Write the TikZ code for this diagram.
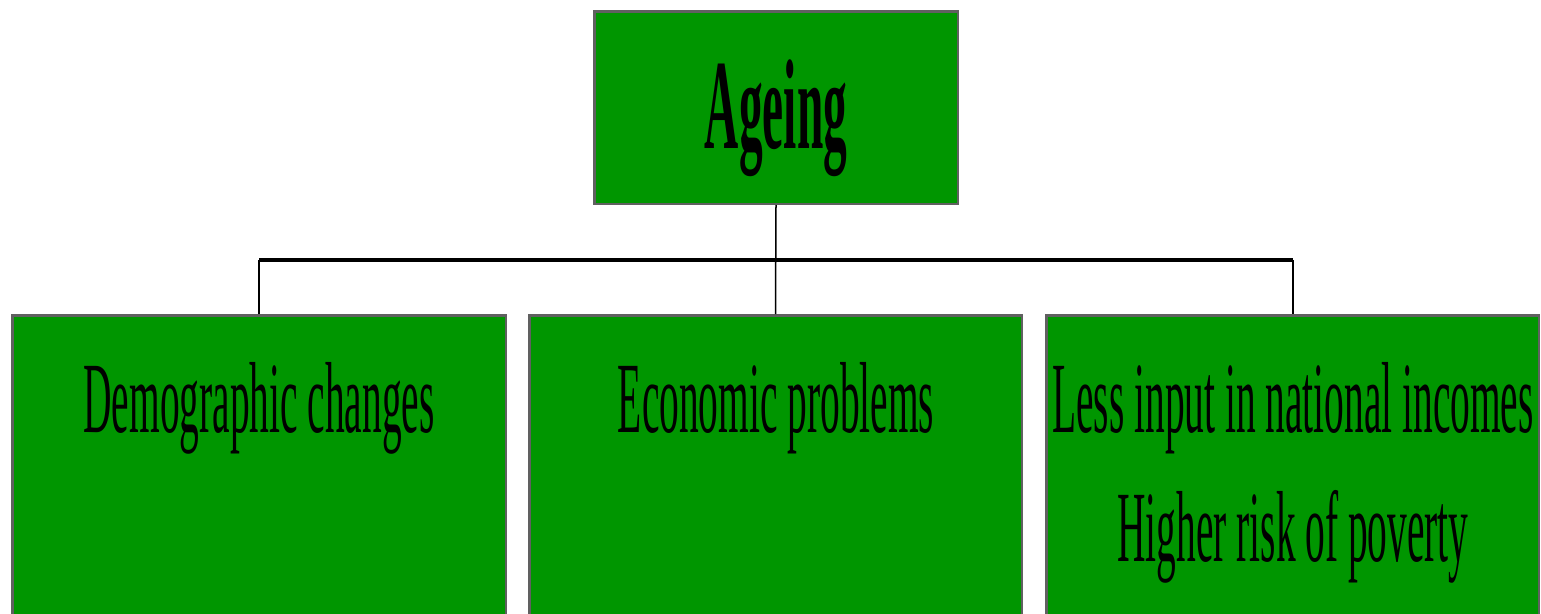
\documentclass[tikz,border=0pt]{standalone}
\usepackage{fontspec}
\setmainfont{Liberation Serif}
\definecolor{boxgreen}{RGB}{0,150,0}
\definecolor{boxedge}{RGB}{96,96,96}
\begin{document}
\begin{tikzpicture}[x=1pt,y=-1pt,
  box/.style={draw=boxedge,line width=2.5pt,fill=boxgreen,rectangle,inner sep=0pt,anchor=north west},
  small/.style={anchor=base,inner sep=0pt,xscale=0.39,transform shape,font=\fontsize{101}{120}\selectfont},
  big/.style={anchor=base,inner sep=0pt,xscale=0.37,transform shape,font=\bfseries\fontsize{128}{150}\selectfont},
  thin/.style={line width=1.5pt,black},
  thick/.style={line width=3.5pt,black}]
\useasboundingbox (0,0) rectangle (1541,613);
\fill[white] (0,0) rectangle (1541,613);
\node[box,minimum width=363.5pt,minimum height=192.5pt] (top) at (593,10) {};
\node[box,minimum width=493.5pt,minimum height=320pt] (b1) at (11,314) {};
\node[box,minimum width=492.5pt,minimum height=320pt] (b2) at (528,314) {};
\node[box,minimum width=492.5pt,minimum height=320pt] (b3) at (1045,314) {};
\coordinate (jl) at (259,260);
\coordinate (jr) at (1293,260);
\draw[thin] (top.south) -- (b2.north);
\draw[thick] (jl) -- (jr);
\draw[thin] (jl) -- (jl |- b1.north);
\draw[thin] (jr) -- (jr |- b3.north);
\node[big] (t0) at (776,148) {Ageing};
\node[small] (t1) at (259,432) {Demographic changes};
\node[small] (t2) at (776,432) {Economic problems};
\node[small] (t3) at (1293,432) {Less input in national incomes};
\node[small] (t4) at (1293,561) {Higher risk of poverty};
\end{tikzpicture}
\end{document}
